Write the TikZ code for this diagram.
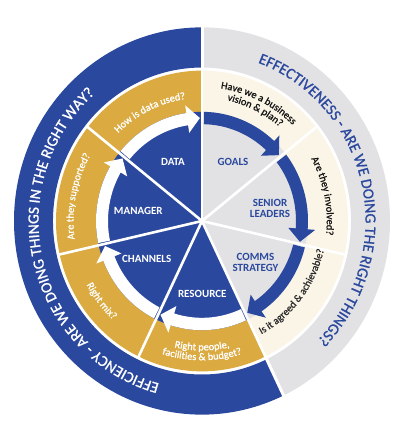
\documentclass[tikz,border=0pt]{standalone}
\usepackage{fontspec}
\setmainfont{Carlito}
\newfontfamily\medfont{Carlito}[FakeBold=1]
\usetikzlibrary{decorations.text}
\definecolor{wblue}{RGB}{42,72,157}
\definecolor{wyellow}{RGB}{219,170,64}
\definecolor{wcream}{RGB}{251,245,231}
\definecolor{wgray}{RGB}{226,226,228}
\definecolor{wtext}{RGB}{20,20,20}
\newcommand{\wheelarrow}[3]{%
  \fill[#3] ({#1-1.2}:106) arc[start angle={#1-1.2}, end angle={#2+8.5}, radius=106]
    -- ({#2+8.5}:113.5) -- ({#2+1.2}:100) -- ({#2+8.5}:86.5) -- ({#2+8.5}:94)
    arc[start angle={#2+8.5}, end angle={#1-1.2}, radius=94] -- cycle;}
\newcommand{\cwtext}[5]{%
  \path[decorate, decoration={text along path, text align=center, text={|#4|#5}}]
    ({#1+#2}:#3) arc[start angle={#1+#2}, end angle={#1-#2}, radius=#3];}
\newcommand{\ccwtext}[5]{%
  \path[decorate, decoration={text along path, text align=center, text={|#4|#5}}]
    ({#1-#2}:#3) arc[start angle={#1-#2}, end angle={#1+#2}, radius=#3];}
\newcommand{\ringfont}{\medfont\fontsize{10.4}{12}\selectfont}
\tikzset{
  seglabel/.style={font=\bfseries\fontsize{11}{10.5}\selectfont, align=center, inner sep=0pt},
  spoke/.style={white, line width=2.6pt},
}
\begin{document}
\begin{tikzpicture}[x=1pt,y=1.03pt]
\useasboundingbox[fill=white] (-202,-198.06) rectangle (202,214.56);
% outer band
\fill[wblue] (90:188) arc[start angle=90, end angle=295.714, radius=188]
  -- (295.714:149) arc[start angle=295.714, end angle=90, radius=149] -- cycle;
\fill[wgray] (90:188) arc[start angle=90, end angle=-64.286, radius=188]
  -- (-64.286:149) arc[start angle=-64.286, end angle=90, radius=149] -- cycle;
\draw[spoke, line width=3pt] (90:148) -- (90:190);
\draw[spoke, line width=3pt] (-64.286:148) -- (-64.286:190);
% ring sectors
\foreach \a/\b/\c in {90/38.571/wcream, 38.571/-12.857/wcream, -12.857/-64.286/wcream,
  -64.286/-115.714/wyellow, -115.714/-167.143/wyellow, -167.143/-218.571/wyellow, -218.571/-270/wyellow}{
  \fill[\c] (0,0) -- (\a:146) arc[start angle=\a, end angle=\b, radius=146] -- cycle;
}
% disc sectors
\foreach \a/\b/\c in {90/38.571/wgray, 38.571/-12.857/wgray, -12.857/-64.286/wgray,
  -64.286/-115.714/wblue, -115.714/-167.143/wblue, -167.143/-218.571/wblue, -218.571/-270/wblue}{
  \fill[\c] (0,0) -- (\a:106) arc[start angle=\a, end angle=\b, radius=106] -- cycle;
}
% spokes
\foreach \a in {90, 38.571, -12.857, -64.286, -115.714, -167.143, -218.571}{
  \draw[spoke] (0,0) -- (\a:147);
}
% arrows
\wheelarrow{90}{38.571}{wblue}
\wheelarrow{38.571}{-12.857}{wblue}
\wheelarrow{-12.857}{-64.286}{wblue}
\wheelarrow{-64.286}{-115.714}{white}
\wheelarrow{-115.714}{-167.143}{white}
\wheelarrow{-167.143}{-218.571}{white}
\wheelarrow{-218.571}{-270}{white}
% outer band texts
\cwtext{12.5}{75}{163.5}{\medfont\fontsize{15.5}{16}\selectfont\color{wblue}}{EFFECTIVENESS - ARE WE DOING THE RIGHT THINGS?}
\cwtext{193}{75}{163.5}{\medfont\fontsize{15.5}{16}\selectfont\color{white}}{EFFICIENCY - ARE WE DOING THINGS IN THE RIGHT WAY?}
% ring texts
\cwtext{64}{40}{130}{\ringfont\color{wtext}}{Have we a business}
\cwtext{64}{40}{119.8}{\ringfont\color{wtext}}{vision {\&} plan?}
\cwtext{11.5}{40}{124.8}{\ringfont\color{wtext}}{Are they involved?}
\ccwtext{-37.5}{40}{125}{\ringfont\color{white!10!wtext}}{Is it agreed {\&} achievable?}
\ccwtext{-90}{40}{125.7}{\ringfont\color{white}}{Right people,}
\ccwtext{-90}{40}{135.2}{\ringfont\color{white}}{facilities {\&} budget?}
\ccwtext{218}{40}{131}{\ringfont\color{white}}{Right mix?}
\cwtext{169}{40}{128.5}{\ringfont\color{white}}{Are they supported?}
\cwtext{116}{40}{119.5}{\ringfont\color{white}}{How is data used?}
% segment labels
\node[seglabel, text=white] (data) at (-29,57.3) {DATA};
\node[seglabel, text=wblue] (goals) at (31,57.3) {GOALS};
\node[seglabel, text=wblue] (senior) at (68,12.3) {SENIOR\\LEADERS};
\node[seglabel, text=wblue] (comms) at (53.5,-40.1) {COMMS\\STRATEGY};
\node[seglabel, text=white] (resource) at (0.3,-70.9) {RESOURCE};
\node[seglabel, text=white] (channels) at (-55.3,-37.2) {CHANNELS};
\node[seglabel, text=white] (manager) at (-63.7,9.7) {MANAGER};
\end{tikzpicture}
\end{document}
